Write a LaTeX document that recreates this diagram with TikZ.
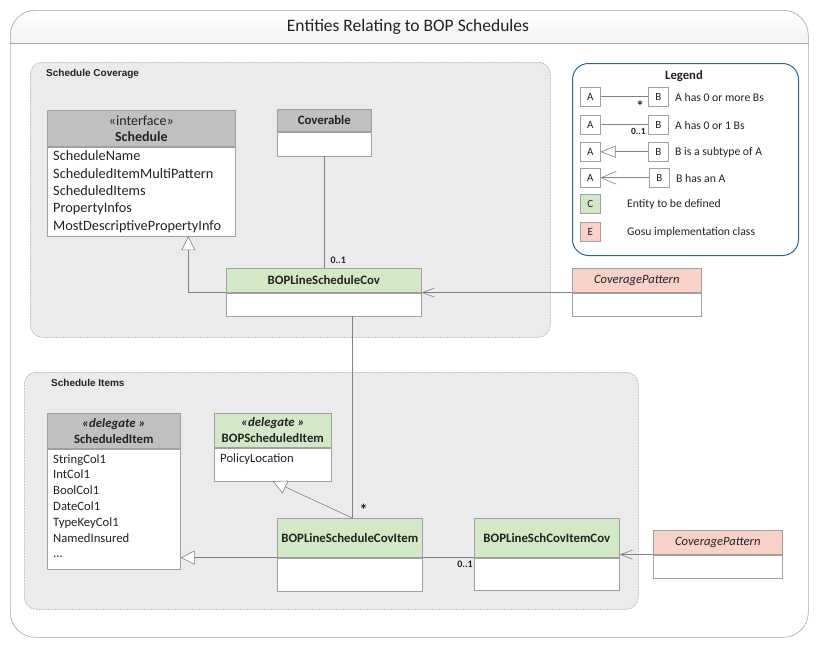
\documentclass[tikz,border=0pt]{standalone}
\usepackage{fontspec}
\setmainfont{Carlito}
\newfontfamily\arialf{Liberation Sans}
\usetikzlibrary{arrows.meta,calc}
\definecolor{hdrgray}{HTML}{C0C0C0}
\definecolor{hdrgreen}{HTML}{D3E8C7}
\definecolor{hdrpink}{HTML}{F8D1C9}
\definecolor{grpfill}{HTML}{EBEBED}
\definecolor{boxline}{HTML}{A0A0A0}
\definecolor{legline}{HTML}{2A6591}
\definecolor{conngray}{HTML}{808080}
\definecolor{txt}{HTML}{222222}
\tikzset{
 hdr/.style={draw=boxline, line width=0.6pt, anchor=north west, inner sep=0pt, align=center, font=\fontsize{12.8}{16}\selectfont\bfseries, text=txt},
 bodybox/.style={draw=boxline, line width=0.6pt, fill=white, anchor=north west, inner sep=0pt},
 attrs/.style={anchor=north west, inner sep=0pt, align=left, text=txt},
 grp/.style={draw=gray!70, dash pattern=on 2pt off 1pt, fill=grpfill, rounded corners=12pt, line width=0.5pt, anchor=north west, inner sep=0pt},
 grplabel/.style={anchor=west, inner sep=0pt, font=\arialf\fontsize{10}{11}\selectfont\bfseries, text=txt},
 conn/.style={draw=conngray, line width=0.6pt},
 gen/.style={conn, -{Triangle[open, length=14pt, width=14pt, fill=white]}},
 assoc/.style={conn, -{Straight Barb[length=12pt, width=9pt]}},
 mult/.style={font=\fontsize{10}{11}\selectfont\bfseries, inner sep=0pt, text=txt},
 lbox/.style={draw=boxline, line width=0.5pt, fill=white, minimum width=20pt, minimum height=19pt, inner sep=0pt, anchor=north west, font=\fontsize{11}{12}\selectfont, text=txt},
 ltext/.style={anchor=west, inner sep=0pt, font=\fontsize{11.7}{13}\selectfont, text=txt},
}
\begin{document}
\begin{tikzpicture}[x=1pt,y=-1pt]
\useasboundingbox (0,0) rectangle (822,645);
% outer frame
\begin{scope}
\clip[rounded corners=25pt] (10,10) rectangle (808,637);
\shade[top color=white, bottom color=gray!10] (10,10) rectangle (808,43);
\end{scope}
\node[draw=gray!70, line width=0.6pt, rounded corners=25pt, minimum width=798pt, minimum height=627pt, anchor=north west, inner sep=0pt] (frame) at (10,10) {};
\draw[gray!70, line width=0.6pt] (frame.west |- 0,43) -- (frame.east |- 0,43);
\node[font=\fontsize{17.5}{20}\selectfont, text=txt, inner sep=0pt] (title) at (408,26.5) {Entities Relating to BOP Schedules};

% groups
\node[grp, minimum width=520pt, minimum height=275pt] (gcov) at (30,62) {};
\node[grplabel] (gcovl) at (46,74) {Schedule Coverage};
\node[grp, minimum width=614pt, minimum height=237pt] (gitm) at (24,372) {};
\node[grplabel] (gitml) at (51,383) {Schedule Items};

% Schedule
\node[hdr, fill=hdrgray, minimum width=188pt, minimum height=36pt, font=\fontsize{14}{16}\selectfont\bfseries] (sch-h) at (47,110) {{\mdseries «interface»}\\Schedule};
\node[bodybox, minimum width=188pt, minimum height=89pt] (sch-b) at (sch-h.south west) {};
\node[attrs, font=\fontsize{14.3}{17.4}\selectfont] (sch-a) at ([shift={(6,4)}]sch-b.north west) {ScheduleName\\ScheduledItemMultiPattern\\ScheduledItems\\PropertyInfos\\MostDescriptivePropertyInfo};

% Coverable
\node[hdr, fill=hdrgray, minimum width=94pt, minimum height=22pt] (cvb-h) at (277,109) {Coverable};
\node[bodybox, minimum width=94pt, minimum height=24pt] (cvb-b) at (cvb-h.south west) {};

% BOPLineScheduleCov
\node[hdr, fill=hdrgreen, minimum width=195pt, minimum height=24pt] (blsc-h) at (226,268) {BOPLineScheduleCov};
\node[bodybox, minimum width=195pt, minimum height=23pt] (blsc-b) at (blsc-h.south west) {};

% CoveragePattern top
\node[hdr, fill=hdrpink, minimum width=129pt, minimum height=24pt, font=\fontsize{12.6}{14}\selectfont\itshape] (cpt-h) at (572,268) {CoveragePattern};
\node[bodybox, minimum width=129pt, minimum height=23pt] (cpt-b) at (cpt-h.south west) {};

% ScheduledItem
\node[hdr, fill=hdrgray, minimum width=133pt, minimum height=35pt] (si-h) at (47,413) {{\itshape «delegate »}\\ScheduledItem};
\node[bodybox, minimum width=133pt, minimum height=120pt] (si-b) at (si-h.south west) {};
\node[attrs, font=\fontsize{12.7}{15.8}\selectfont] (si-a) at ([shift={(6,5.5)}]si-b.north west) {StringCol1\\IntCol1\\BoolCol1\\DateCol1\\TypeKeyCol1\\NamedInsured\\...};

% BOPScheduledItem
\node[hdr, fill=hdrgreen, minimum width=117pt, minimum height=34pt] (bsi-h) at (214,413) {{\itshape «delegate »}\\BOPScheduledItem};
\node[bodybox, minimum width=117pt, minimum height=33pt] (bsi-b) at (bsi-h.south west) {};
\node[attrs, font=\fontsize{12.7}{15.8}\selectfont] (bsi-a) at ([shift={(6,5.5)}]bsi-b.north west) {PolicyLocation};

% BOPLineScheduleCovItem
\node[hdr, fill=hdrgreen, minimum width=145pt, minimum height=39pt] (bsci-h) at (277,518) {BOPLineScheduleCovItem};
\node[bodybox, minimum width=145pt, minimum height=33pt] (bsci-b) at (bsci-h.south west) {};

% BOPLineSchCovItemCov
\node[hdr, fill=hdrgreen, minimum width=145pt, minimum height=39pt] (bscic-h) at (474,518) {BOPLineSchCovItemCov};
\node[bodybox, minimum width=145pt, minimum height=32pt] (bscic-b) at (bscic-h.south west) {};

% CoveragePattern bottom
\node[hdr, fill=hdrpink, minimum width=129pt, minimum height=24pt, font=\fontsize{12.6}{14}\selectfont\itshape] (cpb-h) at (653,530) {CoveragePattern};
\node[bodybox, minimum width=129pt, minimum height=23pt] (cpb-b) at (cpb-h.south west) {};

% connectors
\draw[conn] (cvb-b.south) -- (cvb-b.south |- blsc-h.north);
\node[mult, anchor=south west] (m1) at ([shift={(6,-4)}]cvb-b.south |- blsc-h.north) {0..1};
\draw[gen] (blsc-h.south west) -| ([xshift=47pt]sch-b.south);
\draw[assoc] (cpt-h.south west) -- (blsc-h.south east);
\coordinate (vtop) at ([xshift=2.5pt]bsci-h.north);
\draw[conn] (vtop |- blsc-b.south) -- (vtop);
\node[mult, font=\fontsize{16}{16}\selectfont\bfseries, anchor=south west] (m2) at ([shift={(7,-2)}]vtop) {*};
\draw[gen] (vtop) -- (bsi-b.south);
\draw[gen] (bsci-h.south west) -- (si-b.east |- bsci-h.south west);
\draw[conn] (bsci-h.south east) -- (bscic-h.south west);
\node[mult, anchor=north east] (m3) at ([shift={(-1,3)}]bscic-h.south west) {0..1};
\draw[assoc] (cpb-h.south west) -- (bscic-h.south east |- cpb-h.south west);

% legend
\node[draw=legline, line width=1pt, rounded corners=16pt, minimum width=226pt, minimum height=192pt, anchor=north west, inner sep=0pt] (leg) at (572,63) {};
\node[font=\fontsize{12.7}{14}\selectfont\bfseries, text=txt, inner sep=0pt] (legt) at (684,76) {Legend};
% row 1
\node[lbox] (l1a) at (580,87) {A};
\node[lbox] (l1b) at (648,87) {B};
\draw[conn] (l1a) -- (l1b);
\node[mult, font=\fontsize{15}{15}\selectfont\bfseries, anchor=center] (l1m) at ([shift={(-8,9)}]l1b.west) {*};
\node[ltext] (l1t) at (675,97) {A has 0 or more Bs};
% row 2
\node[lbox] (l2a) at (580,115) {A};
\node[lbox] (l2b) at (648,115) {B};
\draw[conn] (l2a) -- (l2b);
\node[mult, font=\fontsize{9.5}{10}\selectfont\bfseries, anchor=north east] (l2m) at ([shift={(-2,3)}]l2b.west) {0..1};
\node[ltext] (l2t) at (675,125) {A has 0 or 1 Bs};
% row 3
\node[lbox] (l3a) at (580,142) {A};
\node[lbox] (l3b) at (648,142) {B};
\draw[conn, -{Triangle[open, length=15pt, width=12pt, fill=white]}] (l3b) -- (l3a);
\node[ltext] (l3t) at (675,152) {B is a subtype of A};
% row 4
\node[lbox] (l4a) at (580,168) {A};
\node[lbox] (l4b) at (649,168) {B};
\draw[conn, -{Straight Barb[length=15pt, width=13pt]}] (l4b) -- (l4a);
\node[ltext] (l4t) at (676,178) {B has an A};
% row 5
\node[lbox, fill=hdrgreen] (l5) at (580,194) {C};
\node[ltext] (l5t) at (627,204) {Entity to be defined};
% row 6
\node[lbox, fill=hdrpink] (l6) at (580,222) {E};
\node[ltext] (l6t) at (627,232) {Gosu implementation class};
\end{tikzpicture}
\end{document}
